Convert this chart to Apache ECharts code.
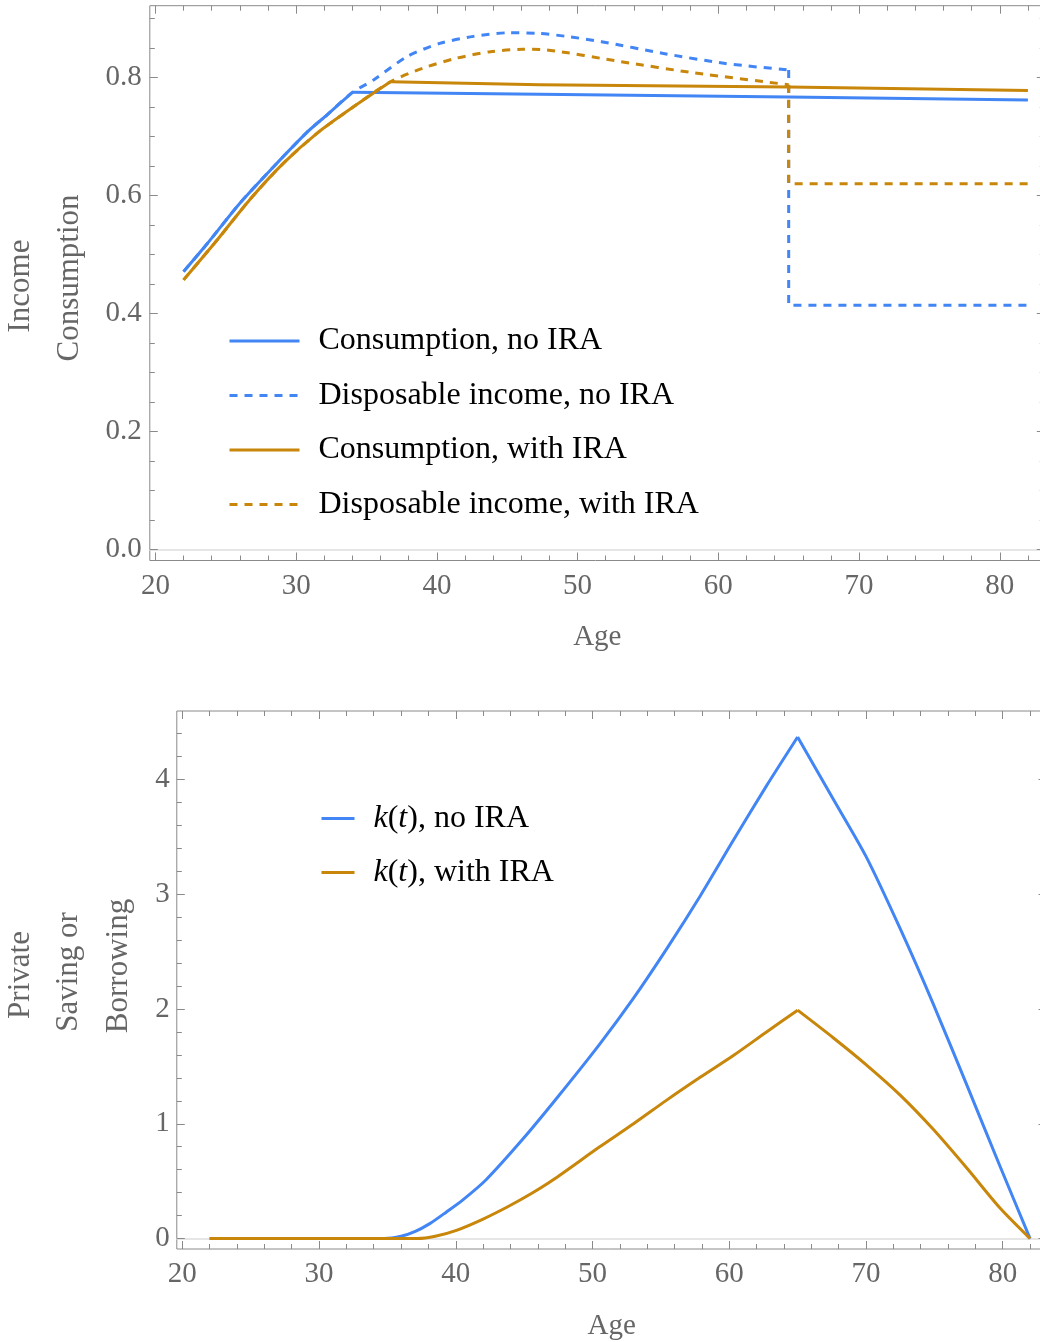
<!DOCTYPE html>
<html>
<head>
<meta charset="utf-8">
<script src="https://cdn.jsdelivr.net/npm/echarts@6.0.0/dist/echarts.min.js"></script>
<style>
  html, body { margin: 0; padding: 0; background: #fff; }
  #chart { width: 1040px; height: 1342px; }
</style>
</head>
<body>
<div id="chart"></div>
<script>
// top panel: consumption / disposable income by age
const ageConsNoIra = [22, 23.6, 26, 28.4, 30.8, 32.2, 34, 47.3, 65, 82];
const consNoIra = [0.471, 0.516, 0.587, 0.649, 0.708, 0.737, 0.775, 0.772, 0.767, 0.762];

const ageIncNoIra = [22, 23.6, 26, 28.4, 30.8, 32.2, 34, 35.5, 37.9, 40.2, 42.6, 45, 47.3, 49.5, 51.7, 56.1, 60.5, 65, 65, 82];
const incNoIra = [0.471, 0.516, 0.587, 0.649, 0.708, 0.737, 0.775, 0.796, 0.836, 0.858, 0.870, 0.876, 0.875, 0.869, 0.861, 0.841, 0.824, 0.813, 0.414, 0.414];

const ageConsIra = [22, 24.4, 26.7, 29.1, 31.5, 34.1, 36.7, 47.3, 65, 82];
const consIra = [0.457, 0.525, 0.593, 0.655, 0.706, 0.751, 0.793, 0.788, 0.784, 0.778];

const ageIncIra = [22, 24.4, 26.7, 29.1, 31.5, 34.1, 36.7, 39, 41.4, 43.8, 46.1, 47.8, 53.1, 58.3, 65, 65, 82];
const incIra = [0.457, 0.525, 0.593, 0.655, 0.706, 0.751, 0.793, 0.816, 0.833, 0.844, 0.848, 0.847, 0.827, 0.808, 0.788, 0.62, 0.62];

// bottom panel: private saving k(t)
const ageKNoIra = [22, 34.8, 36, 37, 38.1, 39.3, 40.5, 42.2, 45, 47.5, 50.5, 53, 55.4, 57.9, 60.3, 62.7, 65, 67.6, 70, 72.5, 74.9, 77.4, 79.8, 82];
const kNoIra = [0, 0, 0.02, 0.06, 0.13, 0.23, 0.335, 0.51, 0.88, 1.24, 1.69, 2.095, 2.52, 2.99, 3.47, 3.94, 4.37, 3.83, 3.33, 2.70, 2.05, 1.33, 0.63, 0];

const ageKIra = [22, 37.2, 38.5, 40.1, 42, 43.8, 45.5, 47.1, 50.5, 53, 55.4, 57.9, 60.3, 62.7, 65, 67.6, 70, 72.5, 74.9, 77.4, 79.8, 82];
const kIra = [0, 0, 0.02, 0.074, 0.17, 0.277, 0.39, 0.51, 0.797, 1.0, 1.204, 1.407, 1.595, 1.798, 1.99, 1.75, 1.516, 1.25, 0.954, 0.61, 0.266, 0];

// ticks
const ageTicks = [20, 30, 40, 50, 60, 70, 80];
const ageMinor = [22, 24, 26, 28, 32, 34, 36, 38, 42, 44, 46, 48, 52, 54, 56, 58, 62, 64, 66, 68, 72, 74, 76, 78, 82];
const incomeTicks = [0, 0.2, 0.4, 0.6, 0.8];
const incomeMinor = [0.05, 0.1, 0.15, 0.25, 0.3, 0.35, 0.45, 0.5, 0.55, 0.65, 0.7, 0.75, 0.85, 0.9];
const savingTicks = [0, 1, 2, 3, 4];
const savingMinor = [0.2, 0.4, 0.6, 0.8, 1.2, 1.4, 1.6, 1.8, 2.2, 2.4, 2.6, 2.8, 3.2, 3.4, 3.6, 3.8, 4.2, 4.4];

const ageRange = [19.6, 83.2];
const incomeRange = [-0.019, 0.922];
const savingRange = [-0.091, 4.597];

const FONT = 'Liberation Serif';
const FRAME = '#8a8a8a';
const GREY = '#666666';
const BLUE = '#4285f4';
const GOLD = '#c8860a';
const DASH = [8, 7];
const LW = 3;

const zip = (xs, ys) => xs.map((x, i) => [x, ys[i]]);

// one frame axis carrying ticks (and optionally labels)
function frameAxis(grid, position, range, ticks, len, label) {
  const axis = {
    type: 'value', gridIndex: grid, position: position,
    min: range[0], max: range[1],
    axisLine: { show: false, onZero: false },
    splitLine: { show: false },
    axisTick: { show: true, inside: true, length: len, customValues: ticks,
      lineStyle: { color: FRAME, width: 1 } },
    axisLabel: { show: false }
  };
  if (label) {
    axis.axisLabel = {
      show: true, customValues: ticks, margin: label.margin,
      formatter: label.formatter, padding: label.padding || 0,
      color: GREY, fontFamily: FONT, fontSize: 29
    };
  }
  return axis;
}

function zeroAxis(grid, range) {
  return {
    type: 'value', gridIndex: grid, position: 'bottom',
    min: range[0], max: range[1],
    axisLine: { show: true, onZero: true, lineStyle: { color: '#dedede', width: 1.5 } },
    axisTick: { show: false }, axisLabel: { show: false }, splitLine: { show: false }
  };
}

const ageLabel = { margin: 11, formatter: (v) => String(v) };
const ageName = (gap) => ({
  name: 'Age', nameLocation: 'middle', nameGap: gap, nameMoveOverlap: false,
  nameTextStyle: { fontFamily: FONT, fontSize: 29, color: GREY }
});

const xAxes = [
  // top panel (grid 0)
  Object.assign(frameAxis(0, 'bottom', ageRange, ageTicks, 8, ageLabel), ageName(62)),
  frameAxis(0, 'bottom', ageRange, ageMinor, 5),
  frameAxis(0, 'top', ageRange, ageTicks, 8),
  frameAxis(0, 'top', ageRange, ageMinor, 5),
  zeroAxis(0, ageRange),
  // bottom panel (grid 1)
  Object.assign(frameAxis(1, 'bottom', ageRange, ageTicks, 8, ageLabel), ageName(63)),
  frameAxis(1, 'bottom', ageRange, ageMinor, 5),
  frameAxis(1, 'top', ageRange, ageMinor, 5),
  frameAxis(1, 'top', ageRange, ageTicks, 8),
  zeroAxis(1, ageRange)
];

const yAxes = [
  frameAxis(0, 'left', incomeRange, incomeTicks, 8, { margin: 8, padding: [5, 0, 0, 0], formatter: (v) => v.toFixed(1) }),
  frameAxis(0, 'left', incomeRange, incomeMinor, 5),
  frameAxis(0, 'right', incomeRange, incomeTicks, 8),
  frameAxis(0, 'right', incomeRange, incomeMinor, 5),
  frameAxis(1, 'left', savingRange, savingTicks, 8, { margin: 7, padding: [4, 0, 0, 0], formatter: (v) => String(v) }),
  frameAxis(1, 'left', savingRange, savingMinor, 5),
  frameAxis(1, 'right', savingRange, savingTicks, 8),
  frameAxis(1, 'right', savingRange, savingMinor, 5)
];

// a curve is drawn as a few pieces so the kinks stay sharp while
// the curved stretches get smoothed; pieces share the legend name
function curve(name, ages, vals, cuts, color, dashed, xi, yi) {
  const pts = zip(ages, vals);
  return cuts.map(([from, to, smooth]) => ({
    name: name, type: 'line', data: pts.slice(from, to + 1),
    xAxisIndex: xi, yAxisIndex: yi,
    symbol: 'none', showSymbol: false, silent: true,
    smooth: smooth ? 0.25 : false,
    lineStyle: { color: color, width: LW, type: dashed ? DASH : 'solid', cap: 'butt', join: 'round' },
    itemStyle: { color: color }
  }));
}

const legendText = { fontFamily: FONT, fontSize: 32, color: '#000', lineHeight: 32, padding: [0, 0, 0, 14] };
const legendCommon = {
  orient: 'vertical', padding: 0, itemHeight: 32, selectedMode: false,
  itemStyle: { opacity: 0, borderWidth: 0 },
  lineStyle: { width: LW }
};

const title = (text, x, y) => ({
  type: 'text', x: x, y: y, rotation: Math.PI / 2, silent: true,
  style: { text: text, font: '31px "' + FONT + '"', fill: GREY, align: 'center', verticalAlign: 'middle' }
});

const chart = echarts.init(document.getElementById('chart'), null, { renderer: 'canvas' });
chart.setOption({
  animation: false,
  backgroundColor: '#fff',
  grid: [
    { left: 149.8, top: 5.7, width: 895, height: 554.8, show: true, borderColor: FRAME, borderWidth: 1,
      backgroundColor: 'transparent', containLabel: false, outerBoundsMode: 'none' },
    { left: 176.8, top: 711, width: 869.7, height: 538, show: true, borderColor: FRAME, borderWidth: 1,
      backgroundColor: 'transparent', containLabel: false, outerBoundsMode: 'none' }
  ],
  xAxis: xAxes,
  yAxis: yAxes,
  legend: [
    Object.assign({}, legendCommon, {
      data: ['Consumption, no IRA', 'Disposable income, no IRA', 'Consumption, with IRA', 'Disposable income, with IRA'],
      left: 228, top: 325, itemWidth: 70, itemGap: 22.5,
      textStyle: legendText
    }),
    Object.assign({}, legendCommon, {
      data: ['k(t), no IRA', 'k(t), with IRA'],
      left: 320, top: 802.5, itemWidth: 33, itemGap: 22,
      formatter: (name) => name.replace('k(t)', '{i|k}({i|t})'),
      textStyle: Object.assign({}, legendText, {
        rich: { i: { fontFamily: FONT, fontSize: 32, fontStyle: 'italic', color: '#000', lineHeight: 32 } }
      })
    })
  ],
  graphic: [
    title('Income', 21, 286),
    title('Consumption', 70, 278),
    title('Private', 21, 975),
    title('Saving or', 69, 972),
    title('Borrowing', 119, 966)
  ],
  series: [].concat(
    curve('Consumption, no IRA', ageConsNoIra, consNoIra, [[0, 6, true], [6, 9, false]], BLUE, false, 0, 0),
    curve('Disposable income, no IRA', ageIncNoIra, incNoIra, [[0, 17, true], [17, 19, false]], BLUE, true, 0, 0),
    curve('Consumption, with IRA', ageConsIra, consIra, [[0, 6, true], [6, 9, false]], GOLD, false, 0, 0),
    curve('Disposable income, with IRA', ageIncIra, incIra, [[0, 14, true], [14, 16, false]], GOLD, true, 0, 0),
    curve('k(t), no IRA', ageKNoIra, kNoIra, [[0, 16, true], [16, 23, true]], BLUE, false, 5, 4),
    curve('k(t), with IRA', ageKIra, kIra, [[0, 14, true], [14, 21, true]], GOLD, false, 5, 4)
  )
});
</script>
</body>
</html>
